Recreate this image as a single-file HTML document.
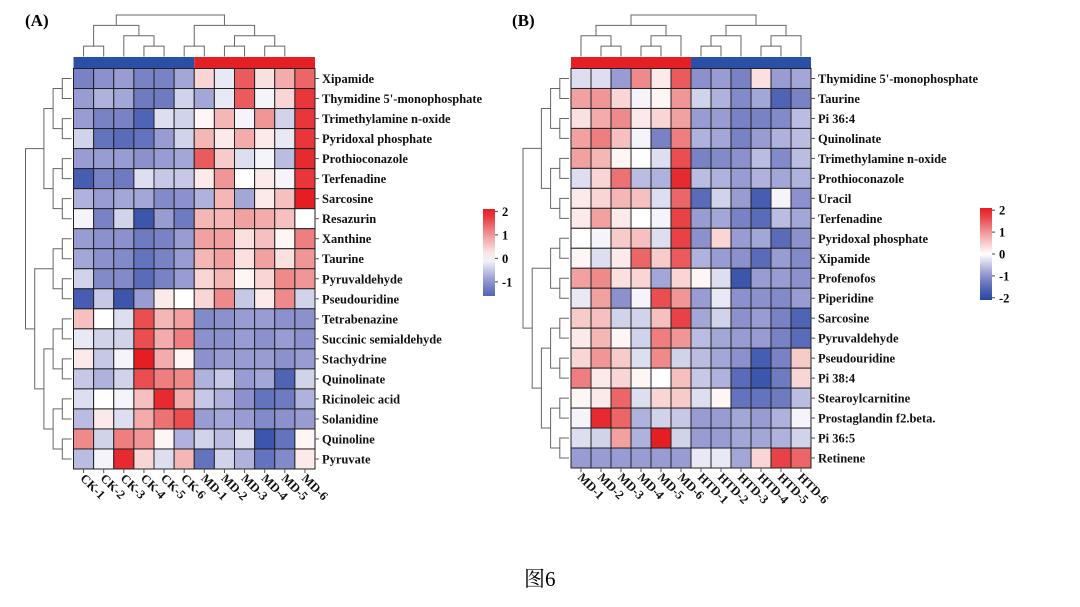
<!DOCTYPE html>
<html><head><meta charset="utf-8"><style>
body{margin:0;background:#fff;}
svg{display:block;font-family:"Liberation Serif","Noto Serif CJK SC",serif;}
.lbl{font-weight:bold;font-size:12.5px;fill:#111;}
</style></head><body>
<svg id="fig" width="1080" height="607" viewBox="0 0 1080 607" xmlns="http://www.w3.org/2000/svg">
<text x="25" y="26" font-weight="bold" font-size="17">(A)</text>
<text x="512" y="26" font-weight="bold" font-size="17">(B)</text>
<text x="524" y="586" font-size="21">图6</text>
<g id="gA"></g>
<g id="gB"></g>
</svg>
<script>
const colsA=["CK-1","CK-2","CK-3","CK-4","CK-5","CK-6","MD-1","MD-2","MD-3","MD-4","MD-5","MD-6"];
const rowsA=["Xipamide","Thymidine 5'-monophosphate","Trimethylamine n-oxide","Pyridoxal phosphate","Prothioconazole","Terfenadine","Sarcosine","Resazurin","Xanthine","Taurine","Pyruvaldehyde","Pseudouridine","Tetrabenazine","Succinic semialdehyde","Stachydrine","Quinolinate","Ricinoleic acid","Solanidine","Quinoline","Pyruvate"];
const valsA=[
[-1.2,-1,-0.9,-1.2,-1.2,-0.8,0.4,-0.2,1.5,0.3,0.8,1.4],
[-0.9,-0.7,-0.8,-1.3,-1.3,-0.4,-0.8,-0.2,1.5,-0.1,0.4,1.8],
[-0.9,-1.2,-1.2,-1.6,-0.3,-0.4,0.1,0.7,-0.1,1.0,-0.4,1.8],
[-0.4,-1.4,-1.5,-1.4,-0.9,-0.4,0.7,0.2,0.8,0.2,-0.2,1.8],
[-0.9,-0.9,-0.9,-1.0,-0.9,-0.8,1.5,0.5,-0.3,-0.1,-0.6,1.9],
[-1.7,-1.2,-1.3,-0.3,-0.5,-0.5,0.2,1.0,0.0,0.2,-0.1,1.8],
[-0.7,-0.9,-0.8,-0.8,-1.1,-1.0,-0.7,0.7,-0.8,0.2,0.6,2.0],
[-0.1,-1.2,-0.4,-1.8,-0.9,-1.3,0.7,0.7,0.9,0.8,0.6,0.0],
[-0.9,-1.0,-1.0,-1.3,-1.2,-0.9,0.9,0.9,0.3,0.6,0.1,1.2],
[-0.8,-1.0,-1.1,-1.4,-1.2,-0.9,0.7,0.9,0.3,0.9,0.3,1.0],
[-0.4,-1.1,-1.1,-1.5,-1.2,-0.9,0.4,0.7,0.1,0.4,1.1,1.0],
[-1.7,-0.5,-1.8,-0.9,0.2,0.0,0.4,1.1,-0.5,0.2,1.1,-0.4],
[0.6,0.0,-0.3,1.6,0.7,0.9,-1.1,-1.0,-0.9,-0.9,-1.0,-1.0],
[-0.2,-0.4,-0.4,1.6,0.8,1.2,-1.0,-1.0,-0.9,-1.0,-0.9,-1.0],
[0.2,-0.5,-0.1,2.0,0.8,0.1,-1.0,-0.9,-0.9,-0.9,-1.0,-0.9],
[-0.5,-0.7,-0.4,1.6,1.2,1.1,-0.7,-0.5,-0.9,-0.8,-1.6,-0.4],
[-0.3,0.0,-0.1,0.6,1.9,0.8,-0.5,-0.7,-1.0,-1.4,-1.3,-0.7],
[-0.6,0.2,-0.3,0.8,1.3,1.6,-0.9,-0.8,-0.9,-1.1,-1.0,-0.9],
[1.1,-0.4,1.2,1.0,0.1,-0.7,-0.4,-0.6,-0.3,-1.8,-1.4,0.1],
[-0.6,-0.1,1.9,0.4,-0.3,0.7,-1.4,-0.4,-0.7,-1.4,-1.1,0.2]];
const colsB=["MD-1","MD-2","MD-3","MD-4","MD-5","MD-6","HTD-1","HTD-2","HTD-3","HTD-4","HTD-5","HTD-6"];
const rowsB=["Thymidine 5'-monophosphate","Taurine","Pi 36:4","Quinolinate","Trimethylamine n-oxide","Prothioconazole","Uracil","Terfenadine","Pyridoxal phosphate","Xipamide","Profenofos","Piperidine","Sarcosine","Pyruvaldehyde","Pseudouridine","Pi 38:4","Stearoylcarnitine","Prostaglandin f2.beta.","Pi 36:5","Retinene"];
const valsB=[
[-0.3,-0.3,-0.9,1.1,0.2,1.5,-1.0,-0.9,-1.2,0.3,-0.9,-0.8],
[0.9,1.0,0.4,-0.1,0.1,1.0,-0.4,-0.7,-1.1,-0.8,-1.6,-1.2],
[0.3,0.8,1.1,0.2,0.4,0.9,-0.9,-0.9,-1.2,-1.2,-1.1,-0.6],
[0.9,1.2,0.6,-0.1,-1.2,1.2,-0.7,-0.8,-1.2,-0.9,-0.7,-0.6],
[0.9,0.7,0.1,0.0,-0.3,1.6,-1.2,-1.1,-1.0,-0.6,-1.1,-0.6],
[-0.3,0.4,1.3,-0.6,-0.7,1.9,-0.6,-0.7,-0.9,-0.7,-0.8,-0.7],
[0.2,0.4,0.7,0.6,-0.3,1.4,-1.5,-0.4,-0.9,-1.7,-0.1,-1.0],
[0.2,0.9,0.2,0.0,-0.1,1.7,-0.9,-0.8,-1.2,-1.5,-0.6,-0.8],
[0.0,-0.1,0.5,0.6,-0.3,1.7,-1.0,0.4,-0.9,-0.8,-1.5,-1.0],
[0.1,-0.3,0.2,1.4,0.5,1.5,-0.7,-0.9,-1.0,-1.5,-0.9,-1.1],
[0.9,1.1,0.3,0.4,-0.8,0.4,0.1,-0.3,-1.8,-0.9,-0.9,-1.0],
[-0.2,0.9,-1.0,-0.1,1.6,1.0,-0.9,-0.2,-1.0,-1.0,-1.1,-0.9],
[0.5,0.6,-0.4,-0.4,0.6,1.7,-0.8,-0.4,-1.0,-0.9,-1.2,-1.6],
[0.2,0.7,0.1,-0.4,1.2,1.0,-0.6,-0.8,-0.9,-0.9,-1.2,-1.5],
[0.4,1.0,0.5,-0.3,1.1,-0.4,-0.6,-0.8,-1.0,-1.7,-1.2,0.5],
[1.2,0.2,0.4,0.1,0.0,0.6,-0.5,-0.7,-1.5,-1.8,-1.3,0.4],
[0.1,0.2,1.4,-0.3,0.4,0.5,-0.3,0.1,-1.4,-1.4,-1.3,-0.6],
[-0.1,1.9,1.4,-0.7,-0.4,-0.5,-0.9,-0.9,-0.8,-0.9,-0.7,-0.1],
[-0.3,-0.4,0.9,-0.7,2.0,-0.4,-0.9,-0.9,-0.8,-0.8,-0.7,-0.4],
[-0.9,-0.9,-0.9,-0.9,-0.9,-0.9,-0.2,-0.2,-0.8,0.4,1.7,1.4]];
const legendTicksA=[2,1,0,-1];
const legendTicksB=[2,1,0,-1,-2];
const colTreeA=[[[0,1],[2,[3,4]]],[[5,6],[[7,8],[9,10]]]];
const colTreeB=[[[0,[1,2]],[[3,4],5]],[[[6,7],8],[[9,10],11]]];
const rowTree=[[[[0,1],[2,3]],[[4,5],[6,7]]],[[[8,9],[10,11]],[[[12,13],[14,15]],[[16,17],[18,19]]]]];

const NS="http://www.w3.org/2000/svg";
function mk(t,a,p){const e=document.createElementNS(NS,t);for(const k in a)e.setAttribute(k,a[k]);p.appendChild(e);return e;}
const stops=[[-2,[40,70,165]],[-1,[140,145,205]],[0,[255,255,255]],[1,[240,150,150]],[2,[230,30,35]]];
function color(v){v=Math.max(-2,Math.min(2,v));for(let i=0;i<4;i++){const a=stops[i],b=stops[i+1];if(v<=b[0]){const t=(v-a[0])/(b[0]-a[0]);const c=a[1].map((x,j)=>Math.round(x+(b[1][j]-x)*t));return `rgb(${c})`;}}return 'rgb(230,30,35)';}
function depth(n){return Array.isArray(n)?1+Math.max(depth(n[0]),depth(n[1])):0;}

function panel(g,x0,x1,y0,y1,cols,rows,vals,hdr,colTree,lx,ticks,legTop,legBot){
 const cw=(x1-x0)/cols.length, rh=(y1-y0)/rows.length;
 const xc=i=>x0+cw*(i+0.5), yc=j=>y0+rh*(j+0.5);
 // header bar
 hdr.forEach((c,i)=>{const r=mk('rect',{x:x0+i*cw*6,y:y0-11.5,width:cw*6,height:11,fill:c},g);
  
  });
 vals.forEach((row,j)=>row.forEach((v,i)=>{
  const r=mk('rect',{x:x0+i*cw,y:y0+j*rh,width:cw,height:rh,fill:color(v),stroke:'#222','stroke-width':1},g);
  
  }));
 rows.forEach((n,j)=>{mk('line',{x1:x1,x2:x1+4,y1:yc(j),y2:yc(j),stroke:'#555'},g);
  const t=mk('text',{x:x1+7,y:yc(j)+4.5,class:'lbl'},g);t.textContent=n;
  
  });
 cols.forEach((n,i)=>{mk('line',{x1:xc(i),x2:xc(i),y1:y1,y2:y1+4,stroke:'#555'},g);
  const t=mk('text',{x:xc(i)-4,y:y1+10,class:'lbl',transform:`rotate(45 ${xc(i)-4} ${y1+10})`},g);t.textContent=n;
  
  });
 // column dendrogram
 const dcol=depth(colTree), top=15, bot=y0-12;
 function dc(n){if(!Array.isArray(n))return [xc(n),bot];
  const a=dc(n[0]),b=dc(n[1]);const h=bot-(bot-top)*depth(n)/dcol;
  mk('path',{d:`M${a[0]},${a[1]}V${h}H${b[0]}V${b[1]}`,fill:'none',stroke:'#666','stroke-width':1},g);return [(a[0]+b[0])/2,h];}
 dc(colTree);
 const dr=depth(rowTree), rl=x0-48, rr=x0-2;
 function drr(n){if(!Array.isArray(n))return [rr,yc(n)];
  const a=drr(n[0]),b=drr(n[1]);const w=rr-(rr-rl)*depth(n)/dr;
  mk('path',{d:`M${a[0]},${a[1]}H${w}V${b[1]}H${b[0]}`,fill:'none',stroke:'#666','stroke-width':1},g);return [w,(a[1]+b[1])/2];}
 drr(rowTree);
 // legend
 const defs=mk('defs',{},g);const id='lg'+lx;
 const lg=mk('linearGradient',{id:id,x1:0,y1:0,x2:0,y2:1},defs);
 const vmax=ticks[0], vmin=legendTicksA===ticks?-1.6:-2.1;
 for(let k=0;k<=10;k++){const v=2.1-(2.1-vmin)*k/10;mk('stop',{offset:k/10,'stop-color':color(v)},lg);}
 const lr=mk('rect',{x:lx,y:legTop,width:12,height:legBot-legTop,fill:`url(#${id})`},g);
 
 
 const ly=v=>legTop+(2.1-v)/(2.1-vmin)*(legBot-legTop);
 ticks.forEach(v=>{mk('line',{x1:lx+12,x2:lx+15,y1:ly(v),y2:ly(v),stroke:'#444'},g);
  const t=mk('text',{x:lx+19,y:ly(v)+4.5,'font-size':12.5,'font-weight':'bold'},g);t.textContent=v;
  
  });
}
panel(document.getElementById('gA'),73.5,315,68.5,469,colsA,rowsA,valsA,['#2a4fa6','#e41f26'],colTreeA,483,legendTicksA,209,296);
panel(document.getElementById('gB'),571,811,68.5,468,colsB,rowsB,valsB,['#e41f26','#2a4fa6'],colTreeB,980,legendTicksB,208,300);
</script>
</body></html>
